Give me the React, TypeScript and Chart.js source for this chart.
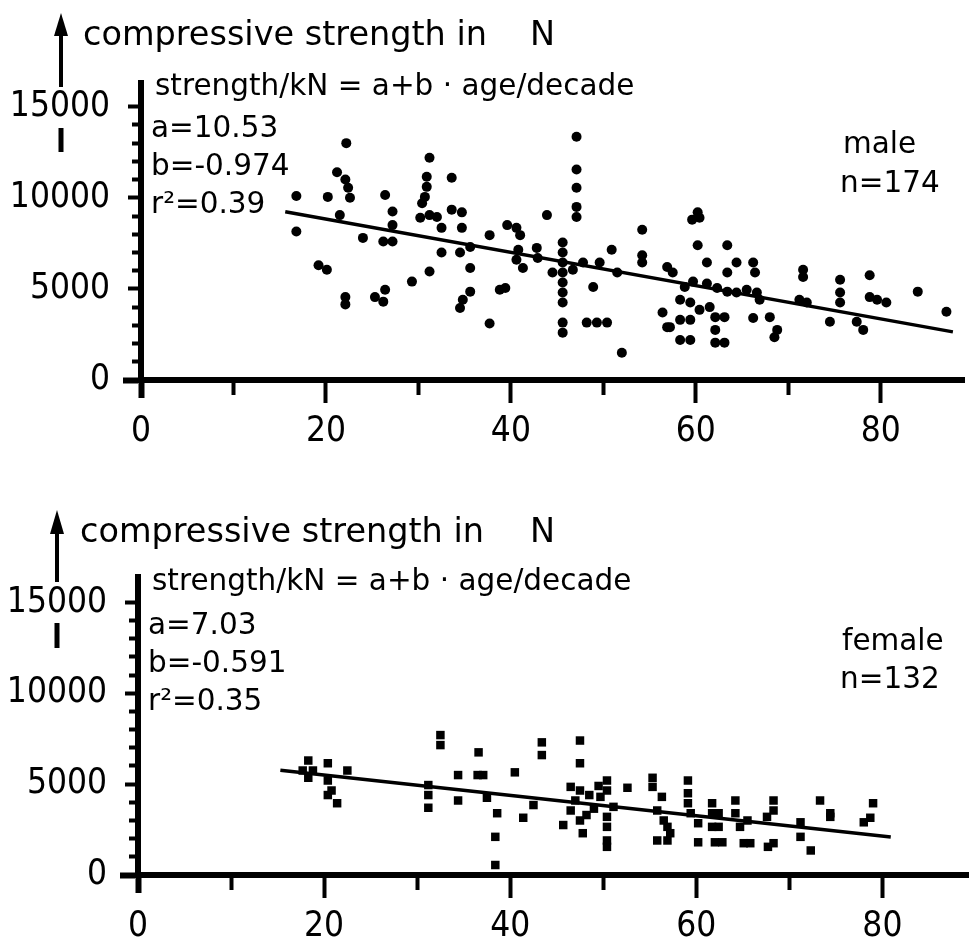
import React, { useEffect, useRef } from 'react';
import { Chart, registerables } from 'chart.js';

Chart.register(...registerables);

const FONT = '"DejaVu Sans", Verdana, sans-serif';
const TICK_FONT = '"DejaVu Sans Condensed", "DejaVu Sans", sans-serif';

// ---------- male data (age in years, strength in N) ----------
const maleAge = [
  22.2, 16.8, 16.8, 20.2, 21.2, 22.1, 22.4, 22.6, 21.5, 19.2, 20.1, 22.1, 22.1,
  26.4, 27.2, 27.2, 26.2, 27.2, 24.0, 25.3, 26.4, 26.2, 29.3, 31.2, 31.2, 30.9,
  30.9, 30.7, 30.4, 33.6, 30.2, 31.2, 32.0, 33.6, 34.7, 32.5, 34.7, 32.5, 34.5,
  35.6, 35.6, 35.6, 34.8, 34.5, 37.7, 39.6, 40.6, 41.0, 38.8, 39.4, 37.7, 40.8,
  40.6, 41.3, 42.8, 42.9, 43.9, 47.1, 47.1, 47.1, 47.1, 47.1, 45.6, 45.6, 45.6,
  45.6, 45.6, 45.6, 45.6, 44.5, 46.7, 47.8, 48.9, 49.6, 50.9, 51.5, 45.6, 45.6,
  48.2, 49.3, 50.4, 52.0, 54.2, 54.2, 54.2, 60.2, 59.6, 60.4, 60.2, 63.4, 61.2,
  64.4, 63.4, 66.2, 66.4, 56.9, 57.5, 58.8, 59.7, 61.2, 62.3, 63.4, 64.4, 65.5,
  66.6, 66.9, 58.3, 59.4, 60.4, 61.5, 56.4, 56.9, 58.3, 58.3, 59.4, 59.4, 62.1,
  62.1, 62.1, 63.1, 63.1, 57.2, 66.2, 68.0, 68.8, 68.5, 71.6, 71.6, 71.2, 72.0,
  74.5, 75.6, 75.6, 75.6, 77.4, 78.1, 78.8, 78.8, 79.6, 80.6, 84.0, 87.1,
];
const maleStrength = [
  13000, 10100, 8150, 10050, 11400, 11000, 10550, 10000, 9050, 6300, 6050, 4550, 4150,
  10150, 9250, 8500, 7600, 7600, 7800, 4550, 4950, 4300, 5400, 5950, 12200, 11150,
  10600, 10050, 9700, 11100, 8900, 9050, 8950, 9350, 9200, 8350, 8350, 7000, 7000,
  7300, 6150, 4850, 4400, 3950, 7950, 8500, 8350, 7950, 4950, 5050, 3100, 7150,
  6600, 6150, 7250, 6700, 9050, 13350, 11550, 10550, 9500, 8950, 7550, 7000, 6450,
  5900, 5350, 4800, 4250, 5900, 6050, 6450, 5100, 6450, 7150, 5900, 3150, 2600,
  3150, 3150, 3150, 1500, 8250, 6850, 6450, 9200, 8800, 8900, 7400, 7400, 6450,
  6450, 5900, 6450, 5900, 6200, 5900, 5100, 5400, 5300, 5050, 4850, 4800, 4950,
  4800, 4400, 4400, 4250, 3850, 4000, 3700, 2900, 3300, 2200, 3300, 2200, 3450,
  2750, 2050, 3450, 2050, 2900, 3400, 3450, 2750, 2350, 6050, 5650, 4400, 4250,
  3200, 5500, 4800, 4250, 3200, 2750, 5750, 4550, 4400, 4250, 4850, 3750,
];
const maleFitAge = [15.6, 87.8];
const maleFitStrength = [9230, 2640];

// ---------- female data ----------
const femaleAge = [
  18.3, 18.3, 17.7, 18.8, 20.4, 20.4, 20.4, 20.8, 21.4, 22.5, 32.5, 32.5, 31.2,
  31.2, 31.2, 34.4, 36.5, 37.1, 36.6, 34.4, 37.5, 38.6, 38.4, 38.4, 40.5, 41.4,
  42.5, 43.4, 43.4, 47.5, 47.5, 46.5, 47.5, 47.0, 46.5, 47.5, 47.8, 45.7, 50.4,
  50.4, 49.7, 51.1, 50.4, 50.4, 50.4, 50.4, 48.5, 49.0, 48.2, 49.5, 52.6, 55.3,
  55.3, 56.3, 55.8, 56.5, 56.9, 57.2, 55.8, 56.9, 59.1, 59.1, 59.1, 59.4, 60.2,
  60.2, 61.7, 61.7, 62.4, 61.7, 62.4, 62.0, 62.8, 64.2, 64.2, 64.7, 65.1, 65.8,
  65.5, 68.3, 68.3, 67.6, 67.7, 68.3, 71.2, 71.2, 72.3, 73.3, 74.4, 74.4, 78.0,
  78.7, 79.0,
];
const femaleStrength = [
  6300, 5350, 5750, 5750, 6150, 5200, 4400, 4650, 3950, 5750, 7700, 7150, 4950,
  4400, 3700, 5500, 5500, 5500, 6750, 4100, 4250, 3400, 2100, 550, 5650, 3150,
  3850, 7300, 6600, 7400, 6150, 4850, 4650, 4100, 3550, 3000, 2300, 2750, 5200,
  4650, 4300, 3750, 3200, 2650, 1900, 1550, 4400, 3650, 3300, 4900, 4800, 5350,
  4850, 4300, 3550, 3000, 2650, 2300, 1900, 1900, 5200, 4500, 3950, 3400, 2850,
  1800, 3950, 3400, 3400, 2650, 2650, 1800, 1800, 4100, 3400, 2650, 1750, 1750,
  3000, 4100, 3550, 3200, 1550, 1750, 2900, 2100, 1350, 4100, 3400, 3200, 2900,
  3150, 3950,
];
const femaleFitAge = [15.3, 80.9];
const femaleFitStrength = [5770, 2090];

// ---------- axes ----------
const xTickValues = [0, 10, 20, 30, 40, 50, 60, 70, 80];
const xLabelValues = [0, 20, 40, 60, 80];
const yTickValues = [0, 1000, 2000, 3000, 4000, 5000, 6000, 7000, 8000, 9000, 10000, 11000, 12000, 13000, 14000, 15000];
const yLabelValues = [0, 5000, 10000, 15000];

// ---------- texts ----------
const titleText = 'compressive strength in';
const unitText = 'N';
const formulaText = 'strength/kN = a+b · age/decade';
const maleParams = ['a=10.53', 'b=-0.974', 'r²=0.39'];
const maleGroup = ['male', 'n=174'];
const femaleParams = ['a=7.03', 'b=-0.591', 'r²=0.35'];
const femaleGroup = ['female', 'n=132'];

type Note = { text: string; x: number; y: number; size: number };
type Arrow = { x: number; tip: number; base: number; shaftEnd: number; segTop: number; segBottom: number };

function notesPlugin(id: string, notes: Note[], arrow: Arrow) {
  return {
    id,
    afterDraw(chart: any) {
      const ctx = chart.ctx as CanvasRenderingContext2D;
      ctx.save();
      ctx.fillStyle = '#000';
      ctx.textAlign = 'left';
      ctx.textBaseline = 'alphabetic';
      for (const n of notes) {
        ctx.font = `${n.size}px ${FONT}`;
        ctx.fillText(n.text, n.x, n.y);
      }
      // arrow on the value axis
      ctx.beginPath();
      ctx.moveTo(arrow.x, arrow.tip);
      ctx.lineTo(arrow.x - 7, arrow.base);
      ctx.lineTo(arrow.x + 7, arrow.base);
      ctx.closePath();
      ctx.fill();
      ctx.fillRect(arrow.x - 2, arrow.base - 1, 4, arrow.shaftEnd - arrow.base + 1);
      ctx.fillRect(arrow.x - 2.5, arrow.segTop, 5, arrow.segBottom - arrow.segTop);
      ctx.restore();
    },
  };
}

const X_TL = 23; // x tick length incl. half border
const Y_TL = 18; // y tick length incl. half border

function axisOptions(xMax: number, yMax: number, yAxisWidth: number, xAxisHeight: number) {
  const tickFont = { family: TICK_FONT, size: 35 };
  return {
    x: {
      type: 'linear' as const,
      min: 0,
      max: xMax,
      position: 'bottom' as const,
      afterFit: (s: any) => {
        s.height = xAxisHeight;
      },
      afterBuildTicks: (s: any) => {
        s.ticks = xTickValues.map((v) => ({ value: v }));
      },
      ticks: {
        autoSkip: false,
        maxRotation: 0,
        minRotation: 0,
        color: '#000',
        font: tickFont,
        padding: 8,
        callback: (v: any) => (xLabelValues.includes(Number(v)) ? String(v) : ''),
      },
      grid: {
        drawOnChartArea: false,
        drawTicks: true,
        tickLength: X_TL,
        tickColor: '#000',
        tickWidth: (c: any) => (c.tick && c.tick.value === 0 ? 6 : 4),
        tickBorderDash: (c: any) => {
          const v = c.tick ? c.tick.value : 1;
          if (v === 0) return [15, 1000];
          return xLabelValues.includes(v) ? [20, 1000] : [12, 1000];
        },
      },
      border: { display: true, width: 6, color: '#000' },
    },
    y: {
      type: 'linear' as const,
      min: 0,
      max: yMax,
      position: 'left' as const,
      afterFit: (s: any) => {
        s.width = yAxisWidth;
      },
      afterBuildTicks: (s: any) => {
        s.ticks = yTickValues.map((v) => ({ value: v }));
      },
      ticks: {
        autoSkip: false,
        color: '#000',
        font: tickFont,
        padding: 13,
        callback: (v: any) => (yLabelValues.includes(Number(v)) ? String(v) : ''),
      },
      grid: {
        drawOnChartArea: false,
        drawTicks: true,
        tickLength: Y_TL,
        tickColor: '#000',
        tickWidth: (c: any) => (c.tick && c.tick.value === 0 ? 6 : 4),
        // ticks are drawn from the outer end inward: skip the outer part
        tickBorderDash: (c: any) => {
          const v = c.tick ? c.tick.value : 1;
          const full = Y_TL - 3;
          if (v === 0) return [full, 1000];
          const vis = yLabelValues.includes(v) ? 10 : 6;
          return [0, full - vis, vis, 1000];
        },
      },
      border: { display: true, width: 6, color: '#000' },
    },
  };
}

function ScatterPanel(props: {
  width: number;
  height: number;
  ages: number[];
  values: number[];
  fitAges: number[];
  fitValues: number[];
  pointStyle: string;
  pointRadius: number;
  padding: { left: number; right: number; top: number; bottom: number };
  yAxisWidth: number;
  xAxisHeight: number;
  xMax: number;
  yMax: number;
  notes: Note[];
  arrow: Arrow;
  id: string;
}) {
  const ref = useRef<HTMLCanvasElement | null>(null);
  useEffect(() => {
    if (!ref.current) return;
    const chart = new Chart(ref.current, {
      type: 'scatter',
      data: {
        datasets: [
          {
            data: props.ages.map((a, i) => ({ x: a, y: props.values[i] })),
            backgroundColor: '#000',
            borderColor: '#000',
            pointStyle: props.pointStyle as any,
            pointRadius: props.pointRadius,
            borderWidth: 0,
          },
          {
            data: props.fitAges.map((a, i) => ({ x: a, y: props.fitValues[i] })),
            showLine: true,
            borderColor: '#000',
            borderWidth: 3.5,
            pointRadius: 0,
          } as any,
        ],
      },
      options: {
        responsive: false,
        animation: false,
        events: [],
        layout: { padding: props.padding },
        plugins: { legend: { display: false }, tooltip: { enabled: false } },
        scales: axisOptions(props.xMax, props.yMax, props.yAxisWidth, props.xAxisHeight) as any,
      },
      plugins: [notesPlugin(props.id, props.notes, props.arrow)],
    });
    return () => chart.destroy();
  }, []);
  return <canvas ref={ref} width={props.width} height={props.height} style={{ display: 'block' }} />;
}

export default function App() {
  const maleNotes: Note[] = [
    { text: titleText, x: 83, y: 45, size: 33.5 },
    { text: unitText, x: 530, y: 45, size: 33.5 },
    { text: formulaText, x: 155, y: 95, size: 29.5 },
    { text: maleParams[0], x: 151, y: 137, size: 29.5 },
    { text: maleParams[1], x: 151, y: 175, size: 29.5 },
    { text: maleParams[2], x: 151, y: 213, size: 29.5 },
    { text: maleGroup[0], x: 843, y: 153, size: 29.5 },
    { text: maleGroup[1], x: 840, y: 192, size: 29.5 },
  ];
  const femaleNotes: Note[] = [
    { text: titleText, x: 80, y: 72, size: 33.5 },
    { text: unitText, x: 530, y: 72, size: 33.5 },
    { text: formulaText, x: 152, y: 120, size: 29.5 },
    { text: femaleParams[0], x: 148, y: 164, size: 29.5 },
    { text: femaleParams[1], x: 148, y: 202, size: 29.5 },
    { text: femaleParams[2], x: 148, y: 240, size: 29.5 },
    { text: femaleGroup[0], x: 842, y: 180, size: 29.5 },
    { text: femaleGroup[1], x: 840, y: 218, size: 29.5 },
  ];
  return (
    <div style={{ position: 'absolute', left: 0, top: 0, width: 975, height: 945, background: '#fff' }}>
      <ScatterPanel
        id="maleNotes"
        width={975}
        height={470}
        ages={maleAge}
        values={maleStrength}
        fitAges={maleFitAge}
        fitValues={maleFitStrength}
        pointStyle="circle"
        pointRadius={5}
        padding={{ left: 0, right: 11, top: 83, bottom: 0 }}
        yAxisWidth={141}
        xAxisHeight={90}
        xMax={89}
        yMax={16300}
        notes={maleNotes}
        arrow={{ x: 61, tip: 13, base: 36, shaftEnd: 87, segTop: 128, segBottom: 152 }}
      />
      <ScatterPanel
        id="femaleNotes"
        width={975}
        height={475}
        ages={femaleAge}
        values={femaleStrength}
        fitAges={femaleFitAge}
        fitValues={femaleFitStrength}
        pointStyle="rect"
        pointRadius={6}
        padding={{ left: 0, right: 7, top: 107, bottom: 0 }}
        yAxisWidth={138}
        xAxisHeight={70}
        xMax={89.2}
        yMax={16400}
        notes={femaleNotes}
        arrow={{ x: 57, tip: 40, base: 64, shaftEnd: 112, segTop: 153, segBottom: 178 }}
      />
    </div>
  );
}
